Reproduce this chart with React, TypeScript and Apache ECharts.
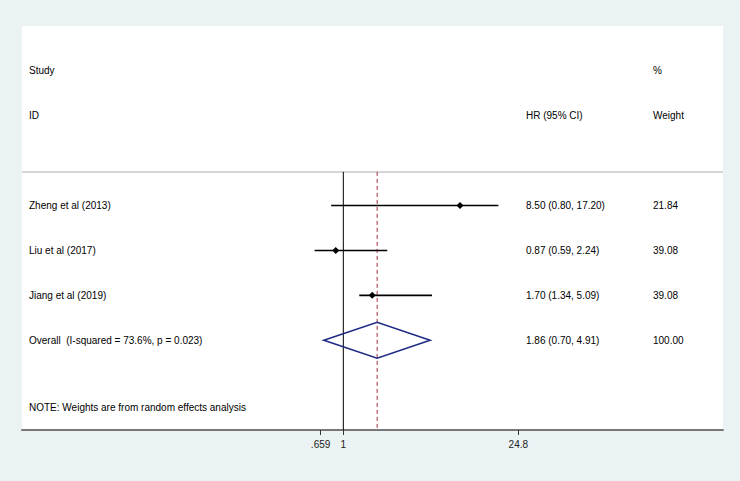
import React, { useEffect, useRef } from "react";
import * as echarts from "echarts";

const studies = ["Zheng et al (2013)", "Liu et al (2017)", "Jiang et al (2019)"];
const hr = [8.5, 0.87, 1.7];
const lower = [0.8, 0.59, 1.34];
const upper = [17.2, 2.24, 5.09];
const weights = ["21.84", "39.08", "39.08"];
const ciText = ["8.50 (0.80, 17.20)", "0.87 (0.59, 2.24)", "1.70 (1.34, 5.09)"];

const overallLabel = "Overall  (I-squared = 73.6%, p = 0.023)";
const overallHR = 1.86;
const overallLower = 0.7;
const overallUpper = 4.91;
const overallCI = "1.86 (0.70, 4.91)";
const overallWeight = "100.00";
const note = "NOTE: Weights are from random effects analysis";

const tickValues = [0.659, 1, 24.8];
const tickLabels = [".659", "1", "24.8"];

// row positions (y axis units, top = 0)
const studyRows = [4, 5, 6];
const overallRow = 7;
const headerRow1 = 1;
const headerRow2 = 2;
const separatorRow = 3.25;
const noteRow = 8.5;
const yMax = 9;

const xMinLog = -2.56;
const xMaxLog = 3.025;

const FONT = "Arial, 'Liberation Sans', sans-serif";
const COL_STUDY = 29;
const COL_CI = 526;
const COL_W = 653;

export default function App() {
  const ref = useRef<HTMLDivElement>(null);
  useEffect(() => {
    if (!ref.current) return;
    const chart = echarts.init(ref.current, null, { renderer: "svg" });
    const lg = (v: number) => Math.log10(v);

    const txt = (x: number, y: number, s: string) => ({
      type: "text",
      style: {
        x,
        y,
        text: s,
        fill: "#000",
        font: `10px ${FONT}`,
        textAlign: "left",
        textVerticalAlign: "middle",
      },
    });

    const option: any = {
      animation: false,
      backgroundColor: "#eaf2f3",
      grid: {
        left: 22,
        right: 17,
        top: 26,
        bottom: 51,
        show: true,
        backgroundColor: "#ffffff",
        borderWidth: 0,
        containLabel: false,
        outerBoundsMode: "none",
      },
      xAxis: {
        type: "value",
        position: "bottom",
        min: xMinLog,
        max: xMaxLog,
        axisLine: { show: true, onZero: false, lineStyle: { color: "#777777", width: 2 } },
        axisTick: {
          show: true,
          customValues: tickValues.map(lg),
          length: 5,
          lineStyle: { color: "#333333", width: 1 },
        },
        axisLabel: {
          show: true,
          customValues: tickValues.map(lg),
          margin: 9,
          color: "#222222",
          fontSize: 10,
          fontFamily: FONT,
          formatter: (v: number) => {
            let best = 0;
            let d = Infinity;
            tickValues.forEach((t, i) => {
              const dd = Math.abs(lg(t) - v);
              if (dd < d) {
                d = dd;
                best = i;
              }
            });
            return tickLabels[best];
          },
        },
        splitLine: { show: false },
      },
      yAxis: {
        type: "value",
        min: 0,
        max: yMax,
        inverse: true,
        show: false,
      },
      series: [
        {
          type: "custom",
          data: [0],
          silent: true,
          renderItem: (params: any, api: any) => {
            const cs = params.coordSys;
            const yOf = (r: number) => api.coord([0, r])[1];
            const xOf = (v: number) => api.coord([lg(v), 0])[0];
            const children: any[] = [];
            children.push({
              type: "line",
              shape: { x1: cs.x, y1: yOf(separatorRow), x2: cs.x + cs.width, y2: yOf(separatorRow) },
              style: { stroke: "#c8c8c8", lineWidth: 1.5 },
            });
            children.push({
              type: "line",
              shape: { x1: xOf(1), y1: yOf(separatorRow), x2: xOf(1), y2: yOf(yMax) },
              style: { stroke: "#000000", lineWidth: 1 },
            });
            children.push({
              type: "line",
              shape: { x1: xOf(overallHR), y1: yOf(separatorRow), x2: xOf(overallHR), y2: yOf(yMax) },
              style: { stroke: "#a03040", lineWidth: 1, lineDash: [4, 3] },
            });
            children.push(txt(COL_STUDY, yOf(headerRow1), "Study"));
            children.push(txt(COL_W, yOf(headerRow1), "%"));
            children.push(txt(COL_STUDY, yOf(headerRow2), "ID"));
            children.push(txt(COL_CI, yOf(headerRow2), "HR (95% CI)"));
            children.push(txt(COL_W, yOf(headerRow2), "Weight"));
            studies.forEach((s, i) => {
              const y = yOf(studyRows[i]);
              children.push(txt(COL_STUDY, y, s));
              children.push(txt(COL_CI, y, ciText[i]));
              children.push(txt(COL_W, y, weights[i]));
            });
            const yo = yOf(overallRow);
            children.push(txt(COL_STUDY, yo, overallLabel));
            children.push(txt(COL_CI, yo, overallCI));
            children.push(txt(COL_W, yo, overallWeight));
            children.push(txt(COL_STUDY, yOf(noteRow), note));
            return { type: "group", children };
          },
          z: 1,
        },
        {
          type: "custom",
          name: "studies",
          data: studies.map((_, i) => [lg(hr[i]), studyRows[i], lg(lower[i]), lg(upper[i])]),
          encode: { x: 0, y: 1 },
          renderItem: (params: any, api: any) => {
            const y = api.coord([api.value(0), api.value(1)])[1];
            const xe = api.coord([api.value(0), api.value(1)])[0];
            const xl = api.coord([api.value(2), api.value(1)])[0];
            const xh = api.coord([api.value(3), api.value(1)])[0];
            const s = 3.5;
            return {
              type: "group",
              children: [
                {
                  type: "line",
                  shape: { x1: xl, y1: y, x2: xh, y2: y },
                  style: { stroke: "#000000", lineWidth: 1.6 },
                },
                {
                  type: "polygon",
                  shape: { points: [[xe - s, y], [xe, y - s], [xe + s, y], [xe, y + s]] },
                  style: { fill: "#000000" },
                },
              ],
            };
          },
          z: 3,
        },
        {
          type: "custom",
          name: "overall",
          data: [[lg(overallHR), overallRow, lg(overallLower), lg(overallUpper)]],
          encode: { x: 0, y: 1 },
          renderItem: (params: any, api: any) => {
            const p = api.coord([api.value(0), api.value(1)]);
            const xl = api.coord([api.value(2), api.value(1)])[0];
            const xh = api.coord([api.value(3), api.value(1)])[0];
            const h = api.size([0, 0.4])[1];
            return {
              type: "polygon",
              shape: { points: [[xl, p[1]], [p[0], p[1] - h], [xh, p[1]], [p[0], p[1] + h]] },
              style: { fill: "none", stroke: "#1f2a85", lineWidth: 1.6 },
            };
          },
          z: 3,
        },
      ],
    };
    chart.setOption(option);
    return () => chart.dispose();
  }, []);
  return (
    <div
      ref={ref}
      style={{ position: "fixed", left: 0, top: 0, width: 740, height: 481 }}
    />
  );
}
